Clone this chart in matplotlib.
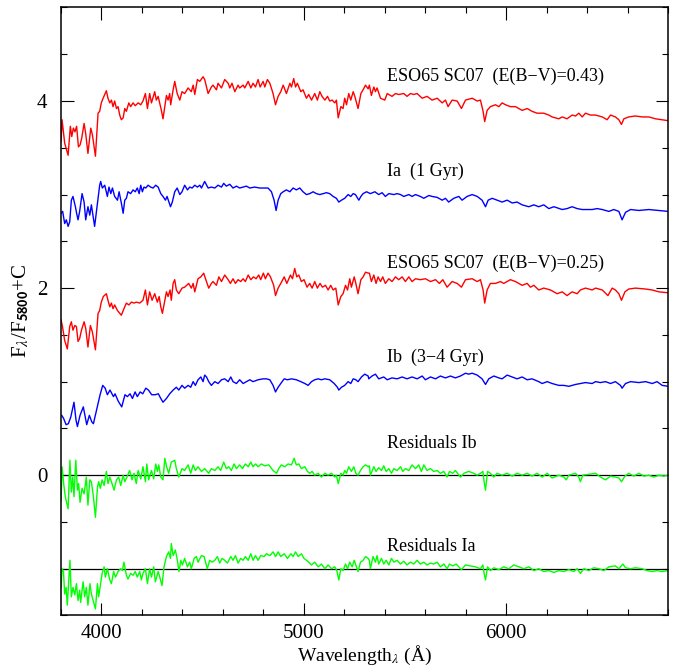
import matplotlib
matplotlib.use("Agg")
import matplotlib.pyplot as plt
from matplotlib.ticker import MultipleLocator, FixedLocator

plt.rcParams["font.family"] = ["Liberation Serif", "DejaVu Serif"]
plt.rcParams["mathtext.fontset"] = "stix"

# ---- spectra (wavelength in Angstrom, normalised flux + offset) ----
eso043_wave = [
    3800, 3805, 3818, 3835, 3846, 3853, 3861, 3869, 3877, 3886,
    3894, 3902, 3914, 3922, 3933, 3947, 3955, 3970, 3983, 3991,
    3999, 4008, 4016, 4024, 4032, 4041, 4049, 4057, 4065, 4074,
    4082, 4090, 4098, 4107, 4115, 4123, 4135, 4144, 4156, 4167,
    4181, 4194, 4205, 4217, 4227, 4238, 4247, 4263, 4271, 4280,
    4296, 4304, 4313, 4321, 4329, 4337, 4342, 4354, 4362, 4374,
    4387, 4398, 4411, 4428, 4444, 4453, 4461, 4474, 4486, 4502,
    4510, 4527, 4543, 4551, 4568, 4576, 4593, 4609, 4626, 4634,
    4645, 4659, 4675, 4683, 4700, 4708, 4725, 4738, 4749, 4761,
    4774, 4784, 4799, 4807, 4820, 4832, 4848, 4860, 4873, 4886,
    4898, 4914, 4931, 4939, 4950, 4959, 4968, 4985, 4996, 5013,
    5024, 5038, 5054, 5067, 5079, 5090, 5104, 5117, 5128, 5140,
    5153, 5161, 5170, 5183, 5194, 5202, 5211, 5222, 5232, 5244,
    5252, 5268, 5282, 5293, 5305, 5318,
    5324, 5334, 5346, 5354, 5362, 5379, 5400, 5412, 5436, 5453,
    5469, 5494, 5510, 5527, 5543, 5560, 5585, 5609, 5634, 5659,
    5684, 5700, 5713, 5733, 5758, 5779, 5799, 5832, 5857, 5873,
    5885, 5894, 5906, 5922, 5947, 5964, 5980, 5997, 6021, 6046,
    6079, 6104, 6128, 6153, 6186, 6211, 6227, 6260, 6277, 6301,
    6326, 6343, 6359, 6376, 6392, 6417, 6442, 6475, 6499, 6516,
    6540, 6557, 6570, 6582, 6606, 6639, 6672, 6705, 6738, 6771,
    6801,
]
eso043_flux = [
    3.57, 3.80, 3.55, 3.42, 3.73, 3.62, 3.71, 3.67, 3.73, 3.51,
    3.53, 3.60, 3.76, 3.65, 3.44, 3.71, 3.64, 3.41, 3.87, 3.89,
    3.98, 4.03, 4.07, 4.11, 4.03, 3.98, 4.01, 3.94, 4.00, 3.92,
    3.94, 3.85, 3.80, 3.82, 3.92, 3.89, 3.98, 3.94, 3.98, 3.95,
    3.98, 3.96, 4.00, 4.08, 3.92, 4.08, 3.98, 4.10, 4.01, 4.05,
    3.90, 3.81, 3.94, 4.06, 4.01, 4.08, 3.96, 4.12, 4.21, 4.08,
    4.01, 4.10, 4.08, 4.14, 4.10, 4.17, 4.07, 4.23, 4.21, 4.26,
    4.23, 4.08, 4.15, 4.17, 4.12, 4.19, 4.14, 4.23, 4.19, 4.14,
    4.19, 4.10, 4.17, 4.14, 4.17, 4.14, 4.21, 4.14, 4.19, 4.15,
    4.23, 4.15, 4.21, 4.15, 4.23, 4.19, 4.08, 3.96, 4.05, 4.10,
    4.17, 4.08, 4.19, 4.15, 4.24, 4.15, 4.19, 4.10, 4.12, 4.03,
    4.07, 4.01, 4.08, 4.01, 4.10, 4.05, 4.01, 4.05, 4.00, 4.01,
    3.98, 4.01, 3.82, 3.94, 3.92, 4.03, 3.96, 4.08, 4.01, 4.10,
    4.05, 3.92, 4.08, 4.12, 4.17, 4.13,
    4.17, 4.06, 4.15, 4.10, 4.14, 4.03, 4.01, 4.08, 4.05, 4.08,
    4.07, 4.08, 4.05, 4.08, 4.07, 4.08, 4.03, 4.05, 4.01, 4.03,
    3.98, 4.01, 3.94, 4.01, 4.00, 3.92, 4.01, 4.03, 4.00, 4.01,
    3.90, 3.78, 3.90, 3.94, 3.96, 3.94, 3.98, 3.96, 3.94, 3.94,
    3.90, 3.92, 3.89, 3.87, 3.87, 3.85, 3.83, 3.81, 3.83, 3.81,
    3.85, 3.84, 3.87, 3.83, 3.87, 3.85, 3.85, 3.83, 3.80, 3.85,
    3.83, 3.80, 3.75, 3.81, 3.83, 3.84, 3.83, 3.83, 3.81, 3.80,
    3.79,
]

ia_wave = [
    3800, 3808, 3818, 3826, 3835, 3843, 3851, 3859, 3871, 3877,
    3884, 3892, 3904, 3914, 3922, 3933, 3942, 3950, 3966, 3980,
    3991, 3996, 4004, 4016, 4029, 4037, 4046, 4054, 4065, 4079,
    4087, 4098, 4107, 4115, 4123, 4131, 4144, 4156, 4167, 4177,
    4186, 4194, 4202, 4210, 4219, 4230, 4243, 4255, 4268, 4280,
    4293, 4304, 4316, 4324, 4341, 4350, 4362, 4374, 4387, 4398,
    4411, 4425, 4436, 4448, 4461, 4474, 4486, 4494, 4510, 4527,
    4543, 4560, 4576, 4593, 4604, 4617, 4634, 4650, 4667, 4683,
    4700, 4716, 4733, 4757, 4782, 4807, 4823, 4840, 4853, 4863,
    4873, 4886, 4898, 4914, 4931, 4947, 4963, 4980, 4996, 5013,
    5029, 5046, 5062, 5079, 5095, 5112, 5128, 5145, 5161, 5173,
    5186, 5202, 5219, 5232, 5244, 5255, 5272, 5282, 5293, 5310,
    5329, 5351, 5370, 5387, 5403, 5420, 5445, 5461, 5478, 5494,
    5519, 5535, 5552, 5576, 5593, 5618, 5634, 5659, 5684, 5700,
    5716, 5741, 5766, 5782, 5807, 5832, 5857, 5881, 5898, 5911,
    5931, 5955, 5980, 6005, 6030, 6054, 6079, 6112, 6137, 6161,
    6186, 6211, 6236, 6277, 6301, 6326, 6351, 6376, 6400, 6425,
    6450, 6475, 6508, 6532, 6557, 6573, 6590, 6615, 6656, 6705,
    6755, 6801,
]
ia_flux = [
    2.80, 2.82, 2.69, 2.73, 2.66, 2.71, 2.94, 2.98, 2.87, 2.80,
    2.73, 2.82, 3.01, 2.92, 2.73, 2.87, 2.78, 2.89, 2.66, 2.91,
    3.10, 3.14, 3.07, 3.10, 2.98, 3.08, 3.01, 3.07, 2.98, 2.94,
    3.03, 2.91, 2.80, 2.94, 2.96, 3.03, 3.01, 3.05, 3.03, 3.07,
    3.01, 3.10, 3.03, 3.08, 3.07, 3.10, 3.08, 3.07, 3.10, 3.08,
    3.01, 2.98, 2.94, 2.98, 2.87, 2.92, 3.03, 3.07, 3.00, 3.03,
    3.10, 3.05, 3.08, 3.07, 3.10, 3.08, 3.10, 3.07, 3.14, 3.07,
    3.08, 3.07, 3.10, 3.08, 3.12, 3.09, 3.11, 3.07, 3.09, 3.07,
    3.08, 3.09, 3.07, 3.08, 3.07, 3.07, 3.07, 3.03, 2.94, 2.83,
    2.94, 3.01, 3.03, 3.05, 3.03, 3.07, 3.05, 3.07, 3.03, 3.00,
    3.01, 3.03, 3.01, 3.00, 3.01, 3.02, 3.01, 2.98, 2.96, 2.92,
    2.94, 2.96, 3.00, 2.98, 3.01, 3.00, 2.94, 2.98, 3.01, 3.03,
    3.01, 3.03, 3.00, 3.02, 2.98, 3.01, 3.00, 3.01, 3.00, 2.98,
    3.00, 2.98, 3.00, 2.98, 2.96, 2.99, 2.98, 2.97, 2.94, 2.96,
    2.92, 2.96, 2.98, 2.94, 2.98, 3.00, 2.98, 2.94, 2.87, 2.94,
    2.96, 2.94, 2.92, 2.94, 2.91, 2.92, 2.89, 2.87, 2.89, 2.87,
    2.89, 2.85, 2.87, 2.84, 2.85, 2.87, 2.85, 2.84, 2.84, 2.84,
    2.85, 2.84, 2.82, 2.84, 2.82, 2.73, 2.81, 2.84, 2.83, 2.84,
    2.83, 2.82,
]

eso025_wave = [
    3800, 3807, 3818, 3831, 3843, 3851, 3859, 3868, 3876, 3884,
    3892, 3901, 3914, 3922, 3933, 3945, 3955, 3970, 3983, 3991,
    3999, 4009, 4024, 4032, 4041, 4049, 4057, 4065, 4079, 4098,
    4111, 4123, 4135, 4148, 4161, 4172, 4189, 4205, 4217, 4227,
    4238, 4250, 4263, 4276, 4285, 4293, 4301, 4313, 4321, 4329,
    4339, 4345, 4354, 4362, 4370, 4382, 4398, 4411, 4431, 4444,
    4453, 4461, 4477, 4491, 4505, 4514, 4530, 4543, 4551, 4568,
    4580, 4593, 4609, 4626, 4637, 4650, 4662, 4675, 4688, 4700,
    4711, 4725, 4738, 4751, 4764, 4777, 4787, 4800, 4810, 4823,
    4835, 4851, 4860, 4873, 4886, 4903, 4916, 4934, 4944, 4955,
    4965, 4975, 4988, 5001, 5016, 5029, 5041, 5054, 5067, 5080,
    5092, 5107, 5120, 5133, 5145, 5158, 5170, 5183, 5194, 5206,
    5216, 5227, 5235, 5249, 5257, 5268, 5282, 5293, 5305, 5318,
    5324, 5334, 5346, 5357, 5367, 5379, 5390, 5403, 5420, 5436,
    5453, 5469, 5486, 5502, 5519, 5535, 5552, 5576, 5601, 5626,
    5651, 5670, 5687, 5708, 5733, 5758, 5779, 5799, 5832, 5857,
    5873, 5886, 5894, 5906, 5922, 5947, 5972, 5988, 6021, 6046,
    6079, 6104, 6120, 6137, 6161, 6186, 6219, 6252, 6277, 6301,
    6326, 6351, 6367, 6392, 6425, 6442, 6475, 6503, 6524, 6540,
    6557, 6570, 6587, 6606, 6639, 6689, 6722, 6755, 6801,
]
eso025_flux = [
    1.66, 1.59, 1.44, 1.35, 1.59, 1.64, 1.55, 1.60, 1.59, 1.43,
    1.46, 1.55, 1.64, 1.57, 1.37, 1.60, 1.53, 1.34, 1.73, 1.76,
    1.85, 1.91, 1.94, 1.87, 1.80, 1.84, 1.78, 1.82, 1.76, 1.71,
    1.78, 1.84, 1.82, 1.85, 1.84, 1.85, 1.84, 1.87, 1.98, 1.82,
    1.96, 1.87, 1.94, 1.85, 1.91, 1.80, 1.73, 1.87, 1.96, 1.91,
    1.98, 1.87, 2.05, 2.09, 1.98, 1.94, 2.00, 2.01, 2.05, 2.00,
    2.05, 1.96, 2.10, 2.12, 2.16, 2.10, 2.00, 2.05, 2.07, 2.03,
    2.12, 2.07, 2.14, 2.09, 2.05, 2.10, 2.05, 2.09, 2.07, 2.10,
    2.07, 2.14, 2.09, 2.12, 2.10, 2.14, 2.09, 2.16, 2.10, 2.16,
    2.12, 2.03, 1.92, 2.00, 2.05, 2.12, 2.05, 2.14, 2.10, 2.21,
    2.12, 2.14, 2.07, 2.09, 2.01, 2.05, 2.00, 2.07, 2.00, 2.05,
    2.01, 2.03, 1.98, 2.03, 1.98, 2.00, 1.82, 1.91, 1.94, 2.03,
    1.98, 2.10, 2.01, 2.12, 2.05, 1.94, 2.09, 2.12, 2.17, 2.16,
    2.16, 2.07, 2.14, 2.05, 2.12, 2.07, 2.12, 2.05, 2.10, 2.07,
    2.12, 2.09, 2.12, 2.07, 2.12, 2.07, 2.10, 2.09, 2.10, 2.07,
    2.09, 2.05, 2.09, 2.01, 2.07, 2.05, 2.01, 2.09, 2.10, 2.07,
    2.09, 1.98, 1.84, 1.98, 2.05, 2.05, 2.07, 2.05, 2.09, 2.07,
    2.03, 2.05, 2.01, 2.03, 1.98, 2.00, 1.98, 1.94, 1.96, 1.92,
    1.96, 1.94, 1.98, 2.00, 1.98, 2.00, 1.98, 1.92, 2.00, 1.98,
    1.94, 1.87, 1.96, 1.99, 2.00, 1.99, 1.98, 1.96, 1.95,
]

ib_wave = [
    3803, 3812, 3825, 3836, 3848, 3864, 3874, 3881, 3894, 3910,
    3927, 3940, 3952, 3960, 3993, 4006, 4018, 4029, 4042, 4059,
    4067, 4083, 4100, 4116, 4128, 4141, 4153, 4166, 4177, 4191,
    4204, 4219, 4232, 4248, 4265, 4281, 4293, 4304, 4321, 4337,
    4354, 4370, 4382, 4398, 4411, 4428, 4441, 4453, 4464, 4477,
    4491, 4502, 4510, 4519, 4530, 4543, 4560, 4576, 4593, 4609,
    4626, 4639, 4650, 4667, 4683, 4700, 4716, 4733, 4749, 4774,
    4799, 4815, 4832, 4848, 4860, 4873, 4886, 4903, 4919, 4939,
    4963, 4985, 5005, 5021, 5038, 5054, 5071, 5087, 5104, 5128,
    5150, 5166, 5173, 5186, 5202, 5219, 5232, 5244, 5257, 5268,
    5285, 5301, 5318,
    5321, 5337, 5354, 5370, 5395, 5412, 5436, 5461, 5486, 5510,
    5535, 5560, 5585, 5601, 5626, 5651, 5675, 5700, 5725, 5749,
    5774, 5799, 5815, 5832, 5857, 5881, 5898, 5914, 5939, 5964,
    5980, 6005, 6030, 6054, 6079, 6104, 6128, 6161, 6178, 6203,
    6227, 6260, 6285, 6310, 6343, 6367, 6392, 6425, 6442, 6466,
    6491, 6516, 6540, 6565, 6573, 6590, 6615, 6656, 6689, 6722,
    6746, 6771, 6801,
]
ib_flux = [
    0.64, 0.61, 0.54, 0.55, 0.62, 0.78, 0.59, 0.52, 0.64, 0.73,
    0.54, 0.64, 0.57, 0.55, 0.86, 0.96, 0.93, 0.86, 0.91, 0.84,
    0.87, 0.79, 0.73, 0.86, 0.84, 0.87, 0.82, 0.89, 0.84, 0.89,
    0.87, 0.93, 0.91, 0.86, 0.86, 0.87, 0.82, 0.78, 0.82, 0.87,
    0.91, 0.94, 0.91, 0.96, 0.93, 0.96, 0.94, 1.00, 0.96, 1.02,
    1.05, 1.00, 1.07, 1.05, 1.00, 0.96, 1.00, 0.98, 1.02, 1.03,
    1.00, 1.05, 1.00, 0.98, 1.02, 0.98, 1.00, 1.02, 1.00, 1.02,
    1.03, 1.03, 1.02, 0.96, 0.89, 0.94, 0.98, 1.03, 1.02, 1.03,
    1.02, 1.00, 0.98, 0.96, 1.00, 1.02, 1.03, 1.02, 1.03, 1.02,
    0.98, 0.94, 0.91, 0.94, 0.96, 1.00, 0.98, 1.03, 1.02, 1.00,
    1.05, 1.08, 1.06,
    1.03, 1.06, 1.08, 1.03, 1.05, 1.02, 1.04, 1.03, 1.05, 1.03,
    1.05, 1.03, 1.06, 1.02, 1.05, 1.03, 1.06, 1.04, 1.06, 1.04,
    1.06, 1.09, 1.08, 1.09, 1.07, 1.03, 0.97, 1.03, 1.06, 1.04,
    1.03, 1.07, 1.05, 1.03, 1.05, 1.02, 1.03, 1.00, 0.98, 1.00,
    0.98, 0.96, 0.96, 0.95, 0.97, 0.98, 0.99, 0.98, 1.00, 0.99,
    1.00, 0.98, 1.00, 0.96, 0.93, 0.98, 1.00, 0.99, 1.00, 0.98,
    1.00, 0.96, 0.95,
]

resid_ib_wave = [
    3800, 3805, 3813, 3821, 3835, 3844, 3851, 3858, 3864, 3873,
    3881, 3887, 3894, 3904, 3914, 3925, 3933, 3942, 3950, 3960,
    3970, 3980, 3986, 3994, 4003, 4013, 4024, 4032, 4041, 4049,
    4062, 4074, 4085, 4095, 4107, 4115, 4126, 4139, 4151, 4161,
    4172, 4181, 4194, 4205, 4217, 4224, 4233, 4247, 4258, 4268,
    4276, 4283, 4293, 4304, 4313, 4322, 4332, 4345, 4362, 4370,
    4382, 4398, 4411, 4428, 4441, 4453, 4464, 4477, 4494, 4510,
    4530, 4543, 4560, 4576, 4589, 4604, 4617, 4629, 4642, 4655,
    4667, 4683, 4697, 4711, 4725, 4738, 4749, 4762, 4774, 4790,
    4807, 4827, 4848, 4865, 4876, 4889, 4906, 4922, 4939, 4952,
    4963, 4975, 4988, 5005, 5018, 5029, 5041, 5054, 5071, 5087,
    5104, 5120, 5137, 5153, 5161, 5170, 5183, 5194, 5202, 5211,
    5222, 5235, 5247, 5257, 5268, 5280, 5293, 5305, 5318,
    5324, 5329, 5346, 5357, 5370, 5384, 5395, 5407, 5420, 5433,
    5445, 5461, 5478, 5489, 5502, 5519, 5535, 5552, 5568, 5581,
    5593, 5609, 5626, 5642, 5659, 5675, 5692, 5708, 5720, 5736,
    5749, 5774, 5791, 5815, 5840, 5857, 5873, 5885, 5891, 5898,
    5908, 5922, 5939, 5955, 5980, 6005, 6030, 6054, 6079, 6104,
    6128, 6153, 6178, 6203, 6227, 6260, 6285, 6297, 6310, 6343,
    6359, 6367, 6379, 6409, 6442, 6466, 6491, 6516, 6540, 6557,
    6570, 6587, 6606, 6631, 6656, 6681, 6705, 6730, 6755, 6779,
    6801,
]
resid_ib_flux = [
    -0.27, 0.09, -0.09, -0.23, -0.36, 0.16, -0.18, -0.02, -0.23, 0.16,
    -0.16, -0.09, -0.29, -0.14, -0.20, -0.02, -0.32, -0.05, -0.07, -0.23,
    -0.45, -0.13, -0.07, -0.14, -0.05, -0.11, 0.04, -0.09, -0.02, -0.07,
    -0.16, -0.05, -0.02, -0.11, 0.00, -0.07, -0.02, 0.05, -0.05, 0.02,
    -0.09, 0.05, -0.04, 0.09, -0.07, 0.12, -0.05, 0.05, -0.04, 0.12,
    0.04, 0.11, -0.02, -0.05, 0.18, 0.09, 0.02, 0.14, 0.16, 0.07,
    -0.02, 0.07, 0.05, 0.11, 0.02, 0.11, 0.05, 0.09, 0.04, 0.07,
    0.02, 0.07, 0.05, 0.09, 0.05, 0.14, 0.07, 0.09, 0.05, 0.12,
    0.07, 0.11, 0.07, 0.12, 0.09, 0.14, 0.09, 0.12, 0.09, 0.12,
    0.10, 0.11, 0.05, 0.02, 0.07, 0.11, 0.09, 0.12, 0.11, 0.18,
    0.11, 0.12, 0.07, 0.09, 0.04, 0.02, 0.04, 0.00, 0.02, -0.02,
    0.02, 0.00, 0.02, -0.02, 0.00, -0.09, 0.02, 0.00, 0.05, 0.02,
    0.09, 0.04, 0.09, 0.02, 0.00, 0.05, 0.09, 0.11, 0.09,
    0.10, 0.00, 0.09, 0.04, 0.08, 0.05, 0.10, 0.04, 0.07, 0.02,
    0.07, 0.05, 0.09, 0.04, 0.07, 0.05, 0.11, 0.07, 0.11, 0.04,
    0.11, 0.05, 0.07, 0.04, 0.05, 0.02, 0.04, -0.02, 0.04, 0.02,
    0.05, -0.02, 0.02, 0.04, 0.02, 0.00, 0.02, 0.04, -0.07, -0.16,
    0.04, 0.02, -0.02, 0.02, 0.00, 0.02, -0.01, 0.02, 0.00, 0.02,
    -0.01, 0.02, -0.02, 0.02, -0.03, 0.00, -0.02, -0.05, 0.00, 0.02,
    -0.02, -0.07, 0.00, 0.01, 0.02, -0.02, -0.05, -0.01, -0.02, -0.03,
    -0.07, -0.01, 0.02, -0.01, 0.02, -0.01, 0.00, -0.02, 0.00, -0.01,
    0.00,
]

resid_ia_wave = [
    3800, 3805, 3812, 3818, 3825, 3831, 3840, 3844, 3851, 3859,
    3868, 3876, 3884, 3892, 3897, 3909, 3917, 3925, 3933, 3943,
    3950, 3970, 3980, 3986, 3994, 4003, 4013, 4019, 4029, 4041,
    4049, 4060, 4069, 4082, 4095, 4103, 4111, 4123, 4131, 4144,
    4156, 4167, 4177, 4189, 4197, 4205, 4217, 4227, 4238, 4247,
    4258, 4266, 4280, 4288, 4299, 4309, 4321, 4332, 4341, 4345,
    4354, 4365, 4375, 4383, 4392, 4400, 4411, 4425, 4436, 4444,
    4458, 4469, 4477, 4494, 4507, 4523, 4535, 4547, 4560, 4573,
    4584, 4596, 4609, 4622, 4639, 4650, 4662, 4675, 4688, 4700,
    4711, 4725, 4738, 4749, 4761, 4774, 4787, 4804, 4815, 4832,
    4848, 4860, 4873, 4886, 4903, 4919, 4936, 4947, 4959, 4972,
    4988, 5001, 5013, 5024, 5038, 5054, 5071, 5087, 5104, 5120,
    5137, 5153, 5163, 5173, 5183, 5194, 5206, 5216, 5227, 5239,
    5249, 5257, 5268, 5280, 5293, 5305, 5318,
    5324, 5329, 5342, 5354, 5362, 5370, 5384, 5395, 5407, 5420,
    5433, 5445, 5461, 5478, 5494, 5510, 5527, 5543, 5560, 5576,
    5593, 5609, 5626, 5642, 5659, 5675, 5692, 5708, 5720, 5736,
    5753, 5779, 5799, 5824, 5848, 5873, 5885, 5891, 5898, 5908,
    5922, 5939, 5964, 5988, 6013, 6038, 6063, 6087, 6112, 6137,
    6161, 6186, 6211, 6236, 6260, 6285, 6310, 6334, 6351, 6367,
    6384, 6409, 6433, 6458, 6483, 6508, 6540, 6557, 6577, 6590,
    6615, 6639, 6672, 6697, 6722, 6746, 6771, 6801,
]
resid_ia_flux = [
    -1.20, -1.00, -1.03, -1.27, -1.20, -1.39, -1.05, -0.91, -1.30, -1.20,
    -1.28, -1.16, -1.34, -1.23, -1.36, -1.14, -1.30, -1.20, -1.39, -1.16,
    -1.27, -1.43, -1.16, -1.30, -1.18, -1.05, -0.98, -1.09, -1.00, -1.12,
    -1.16, -1.03, -1.09, -1.03, -1.00, -1.02, -0.93, -1.07, -1.11, -1.05,
    -1.07, -1.03, -1.09, -1.03, -1.12, -1.05, -1.00, -1.16, -1.00, -1.09,
    -0.98, -1.14, -1.03, -1.09, -1.18, -0.98, -0.87, -0.82, -0.89, -0.73,
    -0.86, -0.80, -0.91, -1.03, -0.91, -0.96, -0.89, -0.98, -0.93, -1.00,
    -0.89, -0.87, -0.93, -0.86, -0.87, -1.00, -0.91, -0.93, -0.91, -0.87,
    -0.94, -0.89, -0.91, -0.94, -0.87, -0.91, -0.86, -0.94, -0.89, -0.91,
    -0.87, -0.91, -0.84, -0.91, -0.86, -0.91, -0.86, -0.87, -0.84, -0.86,
    -0.82, -0.87, -0.82, -0.87, -0.84, -0.89, -0.84, -0.87, -0.82, -0.87,
    -0.84, -0.89, -0.91, -0.93, -0.96, -0.93, -0.98, -0.95, -1.00, -0.96,
    -1.00, -0.98, -1.02, -1.12, -1.00, -1.02, -0.95, -1.00, -0.93, -0.98,
    -0.91, -0.96, -1.03, -0.93, -0.91, -0.87, -0.89,
    -0.91, -1.00, -0.87, -0.93, -0.86, -0.95, -0.89, -0.95, -0.91, -0.96,
    -0.89, -0.93, -0.91, -0.95, -0.92, -0.96, -0.93, -0.95, -0.91, -0.95,
    -0.93, -0.96, -0.94, -0.95, -0.93, -0.98, -0.95, -1.00, -0.95, -0.97,
    -0.95, -1.01, -0.96, -0.97, -0.98, -1.00, -0.96, -1.05, -1.12, -0.98,
    -1.02, -0.99, -1.01, -0.98, -1.00, -0.96, -0.98, -1.00, -0.98, -1.02,
    -1.00, -1.03, -1.02, -1.04, -1.02, -1.03, -1.01, -1.03, -1.00, -1.05,
    -1.00, -1.02, -0.99, -1.00, -1.02, -0.98, -0.97, -1.00, -0.95, -0.99,
    -1.00, -0.99, -1.00, -1.02, -1.03, -1.02, -1.03, -1.02,
]

# ---- curve labels and colours ----
label_x = 5410
labels = [
    "ESO65 SC07  (E(B\u2212V)=0.43)",
    "Ia  (1 Gyr)",
    "ESO65 SC07  (E(B\u2212V)=0.25)",
    "Ib  (3\u22124 Gyr)",
    "Residuals Ib",
    "Residuals Ia",
]
label_y = [4.26, 3.25, 2.26, 1.26, 0.34, -0.76]
zero_levels = [0.0, -1.0]

series = [
    (eso043_wave, eso043_flux, "#ff0000"),
    (ia_wave, ia_flux, "#0000ff"),
    (eso025_wave, eso025_flux, "#ff0000"),
    (ib_wave, ib_flux, "#0000ff"),
    (resid_ib_wave, resid_ib_flux, "#00ff00"),
    (resid_ia_wave, resid_ia_flux, "#00ff00"),
]

fig = plt.figure(figsize=(6.85, 6.69), dpi=100)
ax = fig.add_axes([0.0891, 0.0800, 0.8861, 0.9088])

for lvl in zero_levels:
    ax.axhline(lvl, color="black", lw=0.9, zorder=1)

for wave, flux, col in series:
    ax.plot(wave, flux, color=col, lw=1.0, zorder=2)

for txt, y in zip(labels, label_y):
    ax.text(label_x, y, txt, fontsize=13, va="center", ha="left")

ax.set_xlim(3800, 6800)
ax.set_ylim(-1.5, 5.0)
ax.xaxis.set_major_locator(MultipleLocator(1000))
ax.xaxis.set_minor_locator(MultipleLocator(200))
ax.yaxis.set_major_locator(FixedLocator([0, 2, 4]))
ax.yaxis.set_minor_locator(MultipleLocator(0.5))

ax.tick_params(which="both", direction="in", top=True, right=True,
               width=0.8, labelsize=15)
ax.tick_params(which="major", length=9)
ax.tick_params(which="minor", length=4.5)
ax.tick_params(axis="x", pad=6)
ax.tick_params(axis="y", pad=10)
for sp in ax.spines.values():
    sp.set_linewidth(1.1)

ax.set_xlabel(r"Wavelength$_\lambda$ (Å)", fontsize=14, labelpad=1)
ax.set_ylabel(r"F$_\lambda$/F$_{\mathbf{\mathsf{5800}}}$+C", fontsize=15,
              labelpad=4)

fig.savefig("out.png", dpi=100)
